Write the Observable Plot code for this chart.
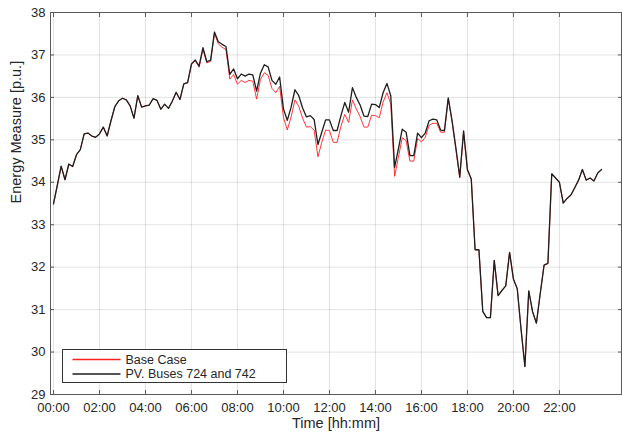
<!DOCTYPE html>
<html>
<head>
<meta charset="utf-8">
<script src="https://cdn.jsdelivr.net/npm/d3@7"></script>
<script src="https://cdn.jsdelivr.net/npm/@observablehq/plot@0.6"></script>
<style>
  html, body { margin: 0; padding: 0; background: #fff; }
  svg { font-family: "Liberation Sans", Arial, Helvetica, sans-serif; }
</style>
</head>
<body>
<div id="chart"></div>
<script>
// Sampling step of the series (minutes)
const stepMinutes = 10;

// "PV. Buses 724 and 742" series (black), 00:00 .. 23:50
const pvBuses = [
  33.49, 33.93, 34.38, 34.06, 34.43, 34.37, 34.65, 34.77, 35.14, 35.16,
  35.09, 35.06, 35.14, 35.30, 35.09, 35.45, 35.78, 35.92, 35.98, 35.94,
  35.80, 35.51, 36.04, 35.77, 35.80, 35.82, 35.97, 35.93, 35.72, 35.84,
  35.74, 35.91, 36.12, 35.95, 36.32, 36.35, 36.79, 36.88, 36.74, 37.17,
  36.84, 36.88, 37.54, 37.31, 37.25, 37.20, 36.54, 36.67, 36.44, 36.55,
  36.50, 36.55, 36.53, 36.15, 36.57, 36.77, 36.72, 36.40, 36.31, 36.48,
  35.73, 35.46, 35.77, 36.18, 36.04, 35.75, 35.54, 35.57, 35.48, 34.89,
  35.18, 35.47, 35.47, 35.22, 35.22, 35.57, 35.88, 35.65, 36.23, 36.00,
  35.82, 35.56, 35.55, 35.84, 35.83, 35.76, 36.11, 36.33, 36.04, 34.35,
  34.79, 35.25, 35.18, 34.63, 34.63, 35.16, 35.05, 35.16, 35.45, 35.49,
  35.47, 35.23, 35.22, 35.99, 35.45, 34.80, 34.13, 35.21, 34.30, 34.08,
  32.41, 32.41, 30.96, 30.81, 30.81, 32.16, 31.33, 31.45, 31.56, 32.35,
  31.72, 31.49, 30.53, 29.66, 31.44, 30.95, 30.68, 31.38, 32.05, 32.09,
  34.20, 34.10, 34.00, 33.51, 33.62, 33.70, 33.87, 34.05, 34.30, 34.05,
  34.10, 34.03, 34.22, 34.30
];

// "Base Case" series (red), 00:00 .. 23:50
const baseCase = [
  33.49, 33.93, 34.38, 34.06, 34.43, 34.37, 34.65, 34.77, 35.14, 35.16,
  35.09, 35.06, 35.14, 35.30, 35.09, 35.45, 35.78, 35.92, 35.98, 35.94,
  35.80, 35.51, 36.04, 35.77, 35.80, 35.82, 35.97, 35.93, 35.72, 35.84,
  35.74, 35.91, 36.12, 35.95, 36.32, 36.35, 36.77, 36.86, 36.71, 37.14,
  36.81, 36.85, 37.51, 37.26, 37.18, 37.13, 36.43, 36.54, 36.31, 36.40,
  36.35, 36.40, 36.38, 35.96, 36.42, 36.58, 36.52, 36.21, 36.11, 36.26,
  35.53, 35.23, 35.54, 35.94, 35.79, 35.51, 35.30, 35.31, 35.23, 34.60,
  34.94, 35.23, 35.22, 34.94, 34.94, 35.32, 35.60, 35.41, 35.94, 35.73,
  35.55, 35.30, 35.30, 35.58, 35.57, 35.52, 35.89, 36.11, 35.85, 34.14,
  34.59, 35.05, 34.98, 34.50, 34.50, 35.03, 34.95, 35.06, 35.34, 35.39,
  35.39, 35.18, 35.18, 35.97, 35.42, 34.77, 34.10, 35.18, 34.28, 34.08,
  32.41, 32.41, 30.96, 30.81, 30.81, 32.16, 31.33, 31.45, 31.56, 32.35,
  31.72, 31.49, 30.53, 29.66, 31.44, 30.95, 30.68, 31.38, 32.05, 32.09,
  34.20, 34.10, 34.00, 33.51, 33.62, 33.70, 33.87, 34.05, 34.30, 34.05,
  34.10, 34.03, 34.22, 34.30
];

const seriesNames = ["Base Case", "PV. Buses 724 and 742"];
const seriesColors = ["#ff2020", "#1e1e1e"];

// Tick labels
const xTickHours = [0, 2, 4, 6, 8, 10, 12, 14, 16, 18, 20, 22];
const xTickLabels = ["00:00", "02:00", "04:00", "06:00", "08:00", "10:00",
                     "12:00", "14:00", "16:00", "18:00", "20:00", "22:00"];
const yTicks = [29, 30, 31, 32, 33, 34, 35, 36, 37, 38];

const xLabel = "Time [hh:mm]";
const yLabel = "Energy Measure [p.u.]";

// Build tidy table
const toRows = (vals, name) => vals.map((v, i) => ({hour: i * stepMinutes / 60, value: v, series: name}));
const redRows = toRows(baseCase, seriesNames[0]);
const blackRows = toRows(pvBuses, seriesNames[1]);

const W = 622, H = 437;
const mL = 50, mR = 1, mT = 12, mB = 43;
const axisColor = "#5a5a5a";
const textColor = "#262626";
const fontSize = 13;

const fmt = h => xTickLabels[xTickHours.indexOf(h)];

const plot = Plot.plot({
  width: W,
  height: H,
  marginLeft: mL,
  marginRight: mR,
  marginTop: mT,
  marginBottom: mB,
  style: {fontFamily: '"Liberation Sans", Arial, Helvetica, sans-serif', background: "#fff", overflow: "visible"},
  x: {domain: [-0.13, 24.7], label: null},
  y: {domain: [29, 38], label: null},
  marks: [
    Plot.gridX(xTickHours, {stroke: textColor, strokeOpacity: 0.13, strokeWidth: 1}),
    Plot.gridY(yTicks, {stroke: textColor, strokeOpacity: 0.13, strokeWidth: 1}),
    Plot.line(redRows, {x: "hour", y: "value", stroke: seriesColors[0], strokeWidth: 0.9}),
    Plot.line(blackRows, {x: "hour", y: "value", stroke: seriesColors[1], strokeWidth: 1.3}),
    Plot.frame({stroke: axisColor, strokeWidth: 1}),
    // inward ticks on all four sides
    Plot.axisX({anchor: "bottom", ticks: xTickHours, tickSize: 4, dy: -4, fill: "none", stroke: axisColor, label: null}),
    Plot.axisX({anchor: "top", ticks: xTickHours, tickSize: 4, dy: 4, fill: "none", stroke: axisColor, label: null}),
    Plot.axisY({anchor: "left", ticks: yTicks, tickSize: 4, dx: 4, fill: "none", stroke: axisColor, label: null}),
    Plot.axisY({anchor: "right", ticks: yTicks, tickSize: 4, dx: -4, fill: "none", stroke: axisColor, label: null}),
    // tick labels
    Plot.axisX({anchor: "bottom", ticks: xTickHours, tickSize: 0, tickPadding: 8, tickFormat: fmt,
                fontSize: fontSize, fill: textColor, label: null}),
    Plot.axisY({anchor: "left", ticks: yTicks, tickSize: 0, tickPadding: 5, tickFormat: d => String(d),
                fontSize: fontSize, fill: textColor, label: null}),
    // axis titles
    Plot.text([xLabel], {frameAnchor: "bottom", dy: 33, fontSize: 14.5, fill: textColor, text: d => d}),
    Plot.text([yLabel], {frameAnchor: "left", dx: -34, rotate: -90, fontSize: 14.5, fill: textColor, text: d => d})
  ]
});

// Legend box (lower-left, inside axes)
const svg = d3.select(plot);
const lg = svg.append("g").attr("transform", "translate(62.5,349.5)");
lg.append("rect").attr("width", 224).attr("height", 33)
  .style("fill", "#fff").style("stroke", "#333").style("stroke-width", 1);
seriesNames.forEach((name, k) => {
  const yy = 10 + k * 14.5;
  lg.append("rect").attr("x", 10).attr("y", yy - 0.75).attr("width", 48).attr("height", 1.5)
    .style("fill", seriesColors[k]).style("stroke", "none");
  lg.append("text").attr("x", 63).attr("y", yy).attr("dy", "0.35em")
    .attr("text-anchor", "start")
    .style("font-size", "12.5px").style("fill", textColor).text(name);
});

document.getElementById("chart").appendChild(plot);
</script>
</body>
</html>
